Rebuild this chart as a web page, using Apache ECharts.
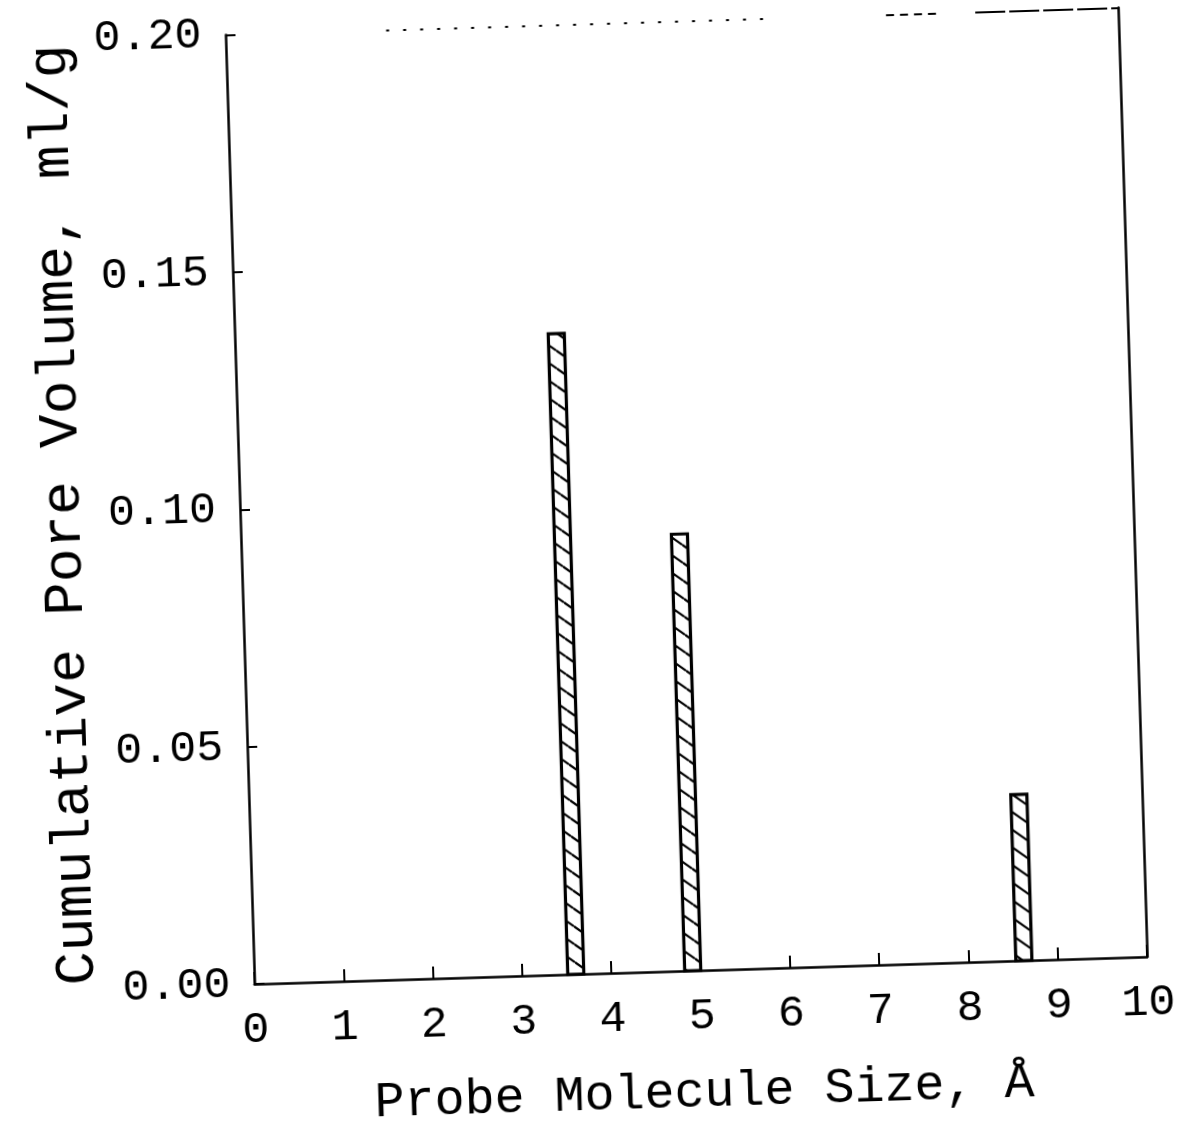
<!DOCTYPE html>
<html>
<head>
<meta charset="utf-8">
<script src="https://cdn.jsdelivr.net/npm/echarts@6/dist/echarts.min.js"></script>
<style>
  html, body { margin: 0; padding: 0; background: #fff; overflow: hidden; }
  #chart {
    width: 1184px; height: 1137px; background: #fff;
    transform-origin: 255px 1001px;
    transform: rotate(-1.75deg);
  }
</style>
</head>
<body>
<div id="chart"></div>
<script>
// Probe molecule size (Å): left and right edge of each bar
const barStart = [3.51, 4.82, 8.53];
const barEnd   = [3.69, 5.00, 8.71];
// Cumulative pore volume (ml/g)
const poreVolume = [0.135, 0.092, 0.035];

// Axis ranges
const xMin = 0, xMax = 10, xStep = 1;
const yMin = 0, yMax = 0.20, yStep = 0.05;

const FONT = '"Liberation Mono", "DejaVu Sans Mono", monospace';

// Diagonal hatch used to fill the bars
function makeHatch() {
  const w = 24, h = 18;
  const c = document.createElement('canvas');
  c.width = w; c.height = h;
  const g = c.getContext('2d');
  g.fillStyle = '#fff';
  g.fillRect(0, 0, w, h);
  g.strokeStyle = '#000';
  g.lineWidth = 2.2;
  [-h, 0, h].forEach(function (dy) {
    g.beginPath();
    g.moveTo(0, dy);
    g.lineTo(w, dy + h);
    g.stroke();
  });
  return c;
}
const hatch = makeHatch();

const barData = barStart.map(function (s, i) { return [s, barEnd[i], poreVolume[i]]; });

const chart = echarts.init(document.getElementById('chart'), null, { renderer: 'canvas' });

chart.setOption({
  backgroundColor: '#fff',
  animation: false,
  grid: { left: 255, top: 34.5, right: 36, bottom: 136, containLabel: false },
  xAxis: {
    type: 'value',
    min: xMin, max: xMax, interval: xStep,
    name: 'Probe Molecule Size, Å',
    nameLocation: 'middle',
    nameGap: 98,
    nameTextStyle: { fontFamily: FONT, fontSize: 50, color: '#000' },
    axisLine: { show: true, onZero: false, lineStyle: { color: '#000', width: 2.5 } },
    axisTick: { show: true, inside: true, length: 12, lineStyle: { color: '#000', width: 2 } },
    axisLabel: { fontFamily: FONT, fontSize: 45, color: '#000', margin: 24 },
    splitLine: { show: false }
  },
  yAxis: [
    {
      type: 'value',
      min: yMin, max: yMax, interval: yStep,
      position: 'left',
      name: 'Cumulative Pore Volume, ml/g',
      nameLocation: 'middle',
      nameGap: 148,
      nameRotate: 90,
      nameTextStyle: { fontFamily: FONT, fontSize: 56, color: '#000' },
      axisLine: { show: true, lineStyle: { color: '#000', width: 2.5 } },
      axisTick: { show: true, inside: true, length: 10, lineStyle: { color: '#000', width: 2 } },
      axisLabel: {
        fontFamily: FONT, fontSize: 45, color: '#000', margin: 24,
        formatter: function (v) { return v.toFixed(2); }
      },
      splitLine: { show: false }
    },
    {
      type: 'value',
      min: yMin, max: yMax, interval: yStep,
      position: 'right',
      axisLine: { show: true, lineStyle: { color: '#000', width: 2.5 } },
      axisTick: { show: false },
      axisLabel: { show: false },
      splitLine: { show: false }
    }
  ],
  series: [{
    type: 'custom',
    data: barData,
    encode: { x: [0, 1], y: 2 },
    renderItem: function (params, api) {
      const p0 = api.coord([api.value(0), 0]);
      const p1 = api.coord([api.value(1), api.value(2)]);
      return {
        type: 'rect',
        shape: { x: p0[0], y: p1[1], width: p1[0] - p0[0], height: p0[1] - p1[1] },
        style: { fill: { image: hatch, repeat: 'repeat' }, stroke: '#000', lineWidth: 3.2 }
      };
    },
    markLine: {
      silent: true,
      symbol: 'none',
      label: { show: false },
      data: [
        [{ coord: [1.8, yMax], lineStyle: { type: [3, 14], width: 2, color: '#000' } }, { coord: [6.15, yMax] }],
        [{ coord: [7.4, yMax], lineStyle: { type: [8, 6], width: 2, color: '#000' } }, { coord: [8.0, yMax] }],
        [{ coord: [8.4, yMax], lineStyle: { type: [30, 4], width: 2, color: '#000' } }, { coord: [xMax, yMax] }]
      ]
    }
  }]
});
</script>
</body>
</html>
